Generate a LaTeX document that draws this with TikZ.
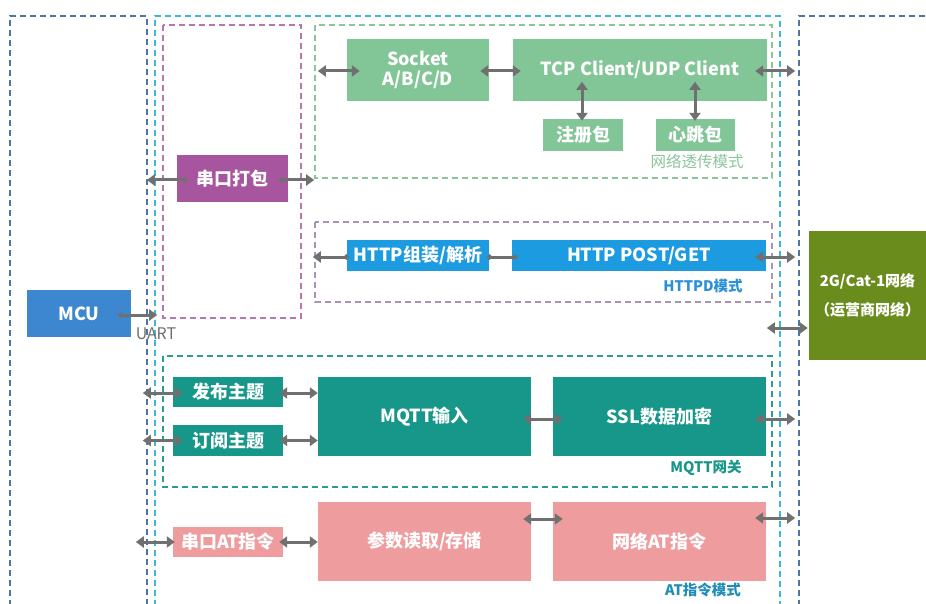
\documentclass[tikz,border=0pt]{standalone}
\usepackage{fontspec}
\setmainfont{Noto Sans CJK SC}
\usetikzlibrary{arrows.meta}
\definecolor{mcublue}{HTML}{3C87CF}
\definecolor{packpurple}{HTML}{A8559F}
\definecolor{lgreen}{HTML}{82C596}
\definecolor{httpblue}{HTML}{1D9BE1}
\definecolor{olive}{HTML}{6A8C1C}
\definecolor{teal}{HTML}{17978A}
\definecolor{pink}{HTML}{EF9C9E}
\definecolor{arrgray}{HTML}{707070}
\definecolor{outerblue}{HTML}{4F74A6}
\definecolor{cyanline}{HTML}{3DB8DA}
\definecolor{purpleline}{HTML}{B676B4}
\definecolor{greenline}{HTML}{8CC49C}
\definecolor{httpline}{HTML}{A993B0}
\definecolor{tealline}{HTML}{2A9D8F}
\definecolor{atblue}{HTML}{1F8DB5}
\definecolor{httptext}{HTML}{2A90D8}
\begin{document}
\begin{tikzpicture}[x=1pt,y=-1pt,
  tri/.tip={Triangle[length=8pt,width=11pt]},
  dotp/.tip={Circle[length=5pt]},
  box/.style={draw=none, inner sep=0pt, text=white, align=center,
    font=\bfseries\fontsize{18}{20}\selectfont},
  dbox/.style={dashed, dash pattern=on 6pt off 4pt, line width=1.1pt},
  arr/.style={draw=arrgray, line width=3pt, {tri}-{tri}},
  lbl/.style={font=\bfseries\fontsize{14.5}{16}\selectfont, inner sep=0pt}
]
\useasboundingbox (0,0) rectangle (926,604);
\fill[white] (0,0) rectangle (926,604);

% dashed regions
\draw[dbox, outerblue] (10,606) -- (10,16) -- (147,16) -- (147,606);
\draw[dbox, cyanline] (155,606) -- (155,16) -- (780,16) -- (780,606);
\draw[dbox, outerblue] (799,606) -- (799,16) -- (928,16);
\draw[dbox, purpleline] (163,25) rectangle (301,318);
\draw[dbox, greenline] (315,25) rectangle (772,178);
\draw[dbox, httpline] (315,222) rectangle (772,302);
\draw[dbox, tealline] (163,356) rectangle (772,487);

% boxes
\node[box, fill=mcublue, minimum width=104pt, minimum height=47pt] (mcu) at (79,313.5) {MCU};
\node[box, fill=packpurple, minimum width=111pt, minimum height=47pt] (pack) at (232.5,178.5) {串口打包};
\node[box, fill=lgreen, minimum width=142pt, minimum height=62pt] (sock) at (418,70) {Socket\\A/B/C/D};
\node[box, fill=lgreen, minimum width=254pt, minimum height=62pt] (tcp) at (640,70) {TCP Client/UDP Client};
\node[box, fill=lgreen, minimum width=80pt, minimum height=32pt] (zc) at (583,135) {注册包};
\node[box, fill=lgreen, minimum width=79pt, minimum height=32pt] (xt) at (695.5,135) {心跳包};
\node[box, fill=httpblue, minimum width=142pt, minimum height=31pt] (hz) at (418,255.5) {HTTP组装/解析};
\node[box, fill=httpblue, minimum width=254pt, minimum height=31pt] (post) at (639,255.5) {HTTP POST/GET};
\node[box, fill=olive, minimum width=117pt, minimum height=129pt,
  font=\bfseries\fontsize{15}{29}\selectfont] (net) at (867.5,295.5) {2G/Cat-1网络\\（运营商网络）};
\node[box, fill=teal, minimum width=110pt, minimum height=30pt] (pub) at (228,392) {发布主题};
\node[box, fill=teal, minimum width=110pt, minimum height=31pt] (sub) at (228,440.5) {订阅主题};
\node[box, fill=teal, minimum width=213pt, minimum height=79pt] (mq) at (424.5,416.5) {MQTT输入};
\node[box, fill=teal, minimum width=213pt, minimum height=79pt] (ssl) at (659.5,416.5) {SSL数据加密};
\node[box, fill=pink, minimum width=110pt, minimum height=30pt] (at) at (228,542) {串口AT指令};
\node[box, fill=pink, minimum width=213pt, minimum height=79pt] (cs) at (424.5,541.5) {参数读取/存储};
\node[box, fill=pink, minimum width=213pt, minimum height=79pt] (nat) at (659.5,541.5) {网络AT指令};

% labels
\node[font=\fontsize{16}{18}\selectfont, text=arrgray, inner sep=0pt] (uart) at (156,334) {UART};
\node[lbl, text=greenline, font=\fontsize{15.5}{17}\selectfont] (l1) at (697,162) {网络透传模式};
\node[lbl, text=httptext] (l2) at (703,286) {HTTPD模式};
\node[lbl, text=teal] (l3) at (706,468) {MQTT网关};
\node[lbl, text=atblue] (l4) at (703,590) {AT指令模式};

% arrows
\draw[arr, {dotp}-{tri}] ([xshift=-13pt,yshift=-1.5pt]mcu.east) -- ([xshift=26pt,yshift=-1.5pt]mcu.east);
\draw[arr, {tri}-{dotp}] ([xshift=-30pt,yshift=-1.5pt]pack.west) -- ([xshift=10pt,yshift=-1.5pt]pack.west);
\draw[arr, {dotp}-{tri}] ([xshift=-9pt,yshift=-1.5pt]pack.east) -- ([xshift=26pt,yshift=-1.5pt]pack.east);
\draw[arr] ([xshift=-29pt,yshift=-1pt]sock.west) -- ([xshift=13pt,yshift=-1pt]sock.west);
\draw[arr] ([xshift=-9pt,yshift=-1pt]sock.east) -- ([xshift=8pt,yshift=-1pt]tcp.west);
\draw[arr] ([xshift=-12pt,yshift=-1pt]tcp.east) -- ([xshift=28pt,yshift=-1pt]tcp.east);
\draw[arr] ([xshift=-1pt,yshift=-2pt]zc.north) -- ([xshift=-1pt,yshift=37pt]zc.north);
\draw[arr] ([xshift=-0.5pt,yshift=-2pt]xt.north) -- ([xshift=-0.5pt,yshift=37pt]xt.north);
\draw[arr, {tri}-{dotp}] ([xshift=-34pt,yshift=-1.5pt]hz.west) -- ([xshift=2pt,yshift=-1.5pt]hz.west);
\draw[arr, {dotp}-{dotp}] ([xshift=-2pt,yshift=-1.5pt]hz.east) -- ([xshift=6pt,yshift=-1.5pt]post.west);
\draw[arr] ([xshift=-11pt,yshift=-1.5pt]post.east) -- ([xshift=29pt,yshift=-1.5pt]post.east);
\draw[arr] ([xshift=-42pt,yshift=-32.5pt]net.west) -- ([xshift=-1pt,yshift=-32.5pt]net.west);
\draw[arr] ([xshift=-30pt,yshift=-1pt]pub.west) -- ([xshift=10pt,yshift=-1pt]pub.west);
\draw[arr] ([xshift=-4pt,yshift=-1pt]pub.east) -- ([yshift=-1pt]pub.east -| mq.west);
\draw[arr] ([xshift=-30pt]sub.west) -- ([xshift=10pt]sub.west);
\draw[arr] ([xshift=-4pt]sub.east) -- (sub.east -| mq.west);
\draw[arr] ([xshift=-8pt,yshift=-2.5pt]mq.east) -- ([xshift=10pt,yshift=-2.5pt]ssl.west);
\draw[arr] ([xshift=-11pt,yshift=-2.5pt]ssl.east) -- ([xshift=29pt,yshift=-2.5pt]ssl.east);
\draw[arr] ([xshift=-37pt]at.west) -- ([xshift=2pt]at.west);
\draw[arr] ([xshift=-4pt]at.east) -- (at.east -| cs.west);
\draw[arr] ([xshift=-8pt,yshift=22.5pt]cs.east) -- ([xshift=10pt,yshift=22.5pt]nat.west);
\draw[arr] ([xshift=-11pt,yshift=23.5pt]nat.east) -- ([xshift=29pt,yshift=23.5pt]nat.east);
\end{tikzpicture}
\end{document}
